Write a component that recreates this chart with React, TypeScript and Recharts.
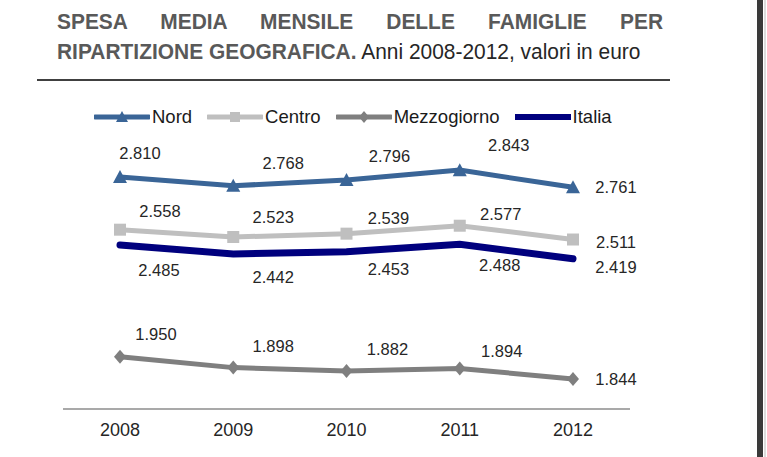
import React from 'react';
import { LineChart, Line, XAxis, YAxis, LabelList } from 'recharts';

const years = ['2008', '2009', '2010', '2011', '2012'];
const nord = [2810, 2768, 2796, 2843, 2761];
const centro = [2558, 2523, 2539, 2577, 2511];
const mezzogiorno = [1950, 1898, 1882, 1894, 1844];
const italia = [2485, 2442, 2453, 2488, 2419];

const data = years.map((year, i) => ({
  year,
  Nord: nord[i],
  Centro: centro[i],
  Mezzogiorno: mezzogiorno[i],
  Italia: italia[i],
}));

// label placement (dx, dy of label centre relative to its point)
const labelOffsets: Record<string, number[][]> = {
  Nord: [[20, -24], [50, -23], [43, -24], [49, -25], [43, 0]],
  Centro: [[40, -19], [40, -20], [42, -16], [41, -12], [43, 2]],
  Italia: [[39, 25], [40, 23], [42, 17], [40, 21], [43, 8]],
  Mezzogiorno: [[36, -23], [40, -22], [41, -22], [42, -17], [43, 0]],
};

const COLORS = {
  Nord: '#3A6597',
  Centro: '#BFBFBF',
  Mezzogiorno: '#7F7F7F',
  Italia: '#00007E',
};

const FONT = '"Liberation Sans", Arial, sans-serif';

const fmt = (v: number) => {
  const s = String(Math.round(v));
  return s.replace(/\B(?=(\d{3})+(?!\d))/g, '.');
};

const makeLabel = (series: string) => (props: any) => {
  const { x, y, index, value } = props;
  const off = labelOffsets[series][index] || [0, 0];
  return (
    <text
      x={x + off[0]}
      y={y + off[1]}
      textAnchor="middle"
      dominantBaseline="central"
      fontSize={16.5}
      fontFamily={FONT}
      fill="#262626"
    >
      {fmt(value)}
    </text>
  );
};

const TriangleDot = (props: any) => {
  const { cx, cy, index } = props;
  if (cx == null || cy == null) return <g key={`t${index}`} />;
  return (
    <polygon
      key={`t${index}`}
      points={`${cx},${cy - 7} ${cx - 7},${cy + 6} ${cx + 7},${cy + 6}`}
      fill={COLORS.Nord}
    />
  );
};

const SquareDot = (props: any) => {
  const { cx, cy, index } = props;
  if (cx == null || cy == null) return <g key={`s${index}`} />;
  return <rect key={`s${index}`} x={cx - 6} y={cy - 6} width={12} height={12} fill={COLORS.Centro} />;
};

const DiamondDot = (props: any) => {
  const { cx, cy, index } = props;
  if (cx == null || cy == null) return <g key={`d${index}`} />;
  return (
    <polygon
      key={`d${index}`}
      points={`${cx},${cy - 7} ${cx + 6},${cy} ${cx},${cy + 7} ${cx - 6},${cy}`}
      fill={COLORS.Mezzogiorno}
    />
  );
};

const legendItems = [
  { name: 'Nord', color: COLORS.Nord, marker: 'triangle', w: 5 },
  { name: 'Centro', color: COLORS.Centro, marker: 'square', w: 5 },
  { name: 'Mezzogiorno', color: COLORS.Mezzogiorno, marker: 'diamond', w: 5 },
  { name: 'Italia', color: COLORS.Italia, marker: 'none', w: 6 },
];

const LegendContent = () => (
  <div style={{ display: 'flex', alignItems: 'center', fontFamily: FONT, fontSize: 18.5, color: '#1a1a1a' }}>
    {legendItems.map((it, i) => (
      <div key={it.name} style={{ display: 'flex', alignItems: 'center', marginLeft: i === 0 ? 0 : 15 }}>
        <svg width={56} height={16} style={{ display: 'block' }}>
          <line x1={1} y1={8} x2={55} y2={8} stroke={it.color} strokeWidth={it.w} strokeLinecap="round" />
          {it.marker === 'triangle' && <polygon points="28,2 22,13 34,13" fill={it.color} />}
          {it.marker === 'square' && <rect x={23} y={3} width={10} height={10} fill={it.color} />}
          {it.marker === 'diamond' && <polygon points="28,2 33,8 28,14 23,8" fill={it.color} />}
        </svg>
        <span style={{ marginLeft: 2 }}>{it.name}</span>
      </div>
    ))}
  </div>
);

const SCALE = 0.93;

export default function App() {
  return (
    <div style={{ position: 'absolute', left: 0, top: 0, width: 767, height: 457, background: '#fff', overflow: 'hidden' }}>
      <div
        style={{
          position: 'absolute',
          left: 57,
          top: 7,
          width: 606 / SCALE,
          transform: `scaleX(${SCALE})`,
          transformOrigin: '0 0',
          fontFamily: FONT,
          fontSize: 22.5,
          lineHeight: '29.5px',
        }}
      >
        <div style={{ color: '#595959', fontWeight: 'bold', textAlign: 'justify', textAlignLast: 'justify' as any }}>
          SPESA MEDIA MENSILE DELLE FAMIGLIE PER
        </div>
        <div style={{ whiteSpace: 'nowrap' }}>
          <span style={{ color: '#595959', fontWeight: 'bold' }}>RIPARTIZIONE GEOGRAFICA.</span>
          <span style={{ color: '#262626' }}> Anni 2008-2012, valori in euro</span>
        </div>
      </div>
      <div style={{ position: 'absolute', left: 37, top: 79, width: 633, height: 2, background: '#404040' }} />
      <div style={{ position: 'absolute', left: 757, top: 0, width: 6, height: 457, background: '#3a3a3a' }} />
      <div style={{ position: 'absolute', left: 764, top: 0, width: 2, height: 457, background: '#dcdcdc' }} />

      <div style={{ position: 'absolute', left: 94, top: 106 }}>
        <LegendContent />
      </div>

      <div style={{ position: 'absolute', left: 0, top: 0 }}>
        <LineChart width={767} height={457} data={data} margin={{ top: 130, right: 137, bottom: 0, left: 63 }}>
          <XAxis
            dataKey="year"
            height={48}
            padding={{ left: 57, right: 57 }}
            axisLine={{ stroke: '#8c8c8c', strokeWidth: 1.5 }}
            tickLine={false}
            tickSize={0}
            tickMargin={14}
            tick={{ fontSize: 18, fontFamily: FONT, fill: '#262626' }}
            interval={0}
          />
          <YAxis hide domain={[1700, 3035]} />
          <Line
            type="linear"
            dataKey="Italia"
            stroke={COLORS.Italia}
            strokeWidth={7}
            strokeLinecap="round"
            dot={false}
            isAnimationActive={false}
          >
            <LabelList dataKey="Italia" content={makeLabel('Italia')} />
          </Line>
          <Line
            type="linear"
            dataKey="Centro"
            stroke={COLORS.Centro}
            strokeWidth={5}
            dot={<SquareDot />}
            isAnimationActive={false}
          >
            <LabelList dataKey="Centro" content={makeLabel('Centro')} />
          </Line>
          <Line
            type="linear"
            dataKey="Nord"
            stroke={COLORS.Nord}
            strokeWidth={5}
            dot={<TriangleDot />}
            isAnimationActive={false}
          >
            <LabelList dataKey="Nord" content={makeLabel('Nord')} />
          </Line>
          <Line
            type="linear"
            dataKey="Mezzogiorno"
            stroke={COLORS.Mezzogiorno}
            strokeWidth={5}
            dot={<DiamondDot />}
            isAnimationActive={false}
          >
            <LabelList dataKey="Mezzogiorno" content={makeLabel('Mezzogiorno')} />
          </Line>
        </LineChart>
      </div>
    </div>
  );
}
